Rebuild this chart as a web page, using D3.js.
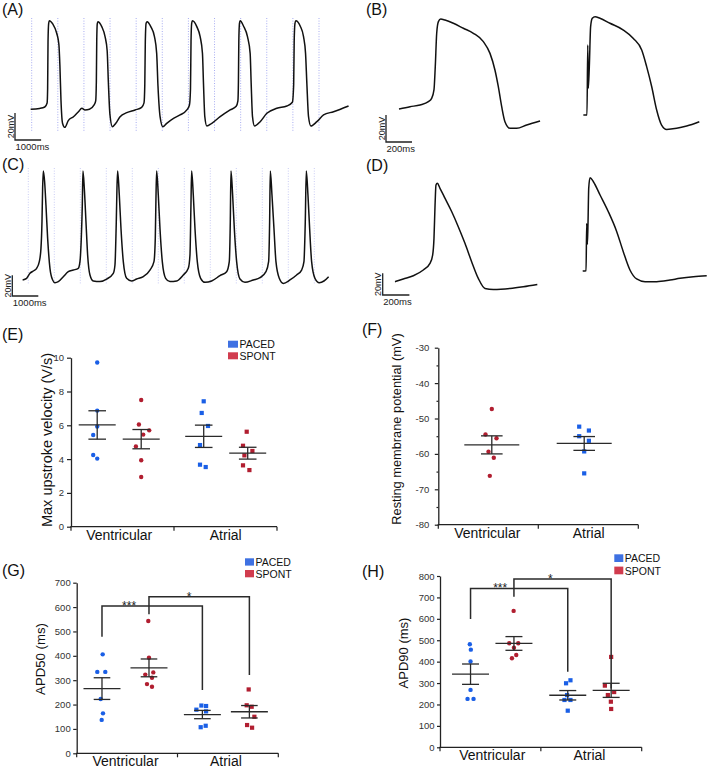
<!DOCTYPE html>
<html><head><meta charset="utf-8">
<script src="https://cdn.jsdelivr.net/npm/d3@7"></script>
<style>
body{margin:0;background:#fff;}
svg{display:block;font-family:"Liberation Sans",Arial,Helvetica,sans-serif;}
</style></head><body>
<svg id="chart" width="709" height="768"></svg>
<script>
// ---------------- DATA ----------------
// Action potential traces: [time (ms), membrane potential (mV)]
const traceA = [
[-40,-60.2],[300,-59.6],[500,-58.5],[590,-55.5],[610,-45],[625,-10],[650,3.5],[677,5.4],[805,3.0],[958,-3.9],[1040,-12],[1080,-28],[1120,-53],[1180,-70.5],[1270,-73.6],[1400,-68.6],[1600,-65.7],[1790,-62.0],[1920,-59.5],[2040,-60.7],[2210,-60.2],[2390,-57.0],[2450,-54],[2475,-40],[2490,-10],[2510,3],[2535,4.7],
[2682,1.0],[2809,-6.4],[2890,-17],[2935,-40],[2995,-64],[3090,-73.1],[3220,-70.6],[3384,-65.7],[3640,-62.7],[3960,-60.7],[4210,-58.8],[4300,-55.5],[4330,-42],[4350,-10],[4380,3.5],[4420,4.7],
[4560,1.0],[4700,-6.4],[4785,-18.8],[4835,-43],[4915,-65.7],[5020,-73.1],[5170,-70.6],[5430,-66.9],[5680,-64.4],[5940,-60.7],[6040,-57],[6080,-45],[6100,-10],[6125,3.5],[6155,5.4],
[6321,1.0],[6449,-6.4],[6538,-18.8],[6577,-41.0],[6628,-65.7],[6704,-72.6],[6896,-70.6],[7215,-65.7],[7598,-60.7],[7830,-58],[7895,-54],[7915,-40],[7930,-10],[7955,3.5],[7981,5.4],
[8109,1.5],[8262,-6.4],[8364,-18.8],[8403,-41.0],[8454,-65.7],[8530,-72.6],[8747,-69.4],[9003,-63.2],[9386,-59.5],[9769,-57.8],[9980,-55],[10030,-42],[10050,-10],[10080,3.5],[10114,5.4],
[10280,1.5],[10408,-6.4],[10485,-18.8],[10535,-41.0],[10599,-65.7],[10688,-72.6],[10918,-69.4],[11174,-64.4],[11557,-62.0],[12132,-57.8]
];
const traceB1 = [[0,-60],[85,-58.3],[162,-57.0],[226,-54.6],[251,-52.1],[269,-45.9],[279,-28.6],[290,-3.9],[303,4.7],[321,6.7],[354,5.9],[418,3.5],[495,-0.2],[572,-3.9],[649,-10.1],[700,-18.8],[738,-31.1],[764,-43.5],[790,-58.3],[815,-69.4],[854,-74.3],[905,-74.3],[982,-71.9],[1085,-68.9]];
const traceB2 = [[1418,-64.4],[1446,-64.4],[1452,-12.6],[1456,-44.7],[1464,-28.6],[1474,1.0],[1487,7.2],[1508,8.4],[1546,7.2],[1623,3.5],[1726,-1.5],[1803,-7.7],[1867,-16.3],[1905,-28.6],[1944,-43.5],[1982,-60.7],[2020,-71.9],[2059,-75.1],[2136,-74.3],[2213,-72.6],[2310,-69.4]];
const traceC = [
[-218,-69.0],[-64,-67.4],[64,-62.6],[192,-60.3],[321,-57.7],[423,-51.3],[487,-38.4],[526,-12.6],[551,19.7],[577,36.5],[628,26.1],[679,3.5],[744,-28.7],[833,-57.7],[936,-69.0],[1026,-71.6],[1154,-70.6],[1346,-65.8],[1538,-61.0],[1731,-59.4],[1923,-57.7],[1987,-51.3],[2038,-28.7],[2077,3.5],[2102,36.5],
[2154,19.7],[2218,-12.6],[2282,-44.8],[2372,-64.2],[2500,-70.0],[2756,-70.6],[3013,-68.1],[3269,-62.6],[3333,-54.5],[3384,-12.6],[3410,19.7],[3436,36.5],
[3500,13.2],[3564,-19.0],[3654,-51.3],[3782,-67.4],[3974,-70.0],[4167,-68.1],[4423,-65.8],[4679,-59.4],[4833,-51.3],[4884,-28.7],[4910,10.0],[4936,36.5],
[5000,13.2],[5064,-19.0],[5154,-51.3],[5282,-67.4],[5449,-70.6],[5705,-70.0],[5961,-64.2],[6154,-57.7],[6218,-44.8],[6256,3.5],[6282,36.5],
[6346,13.2],[6410,-19.0],[6500,-51.3],[6628,-67.4],[6795,-71.3],[7051,-70.0],[7372,-64.8],[7628,-61.0],[7730,-51.3],[7769,-12.6],[7795,36.5],
[7859,13.2],[7923,-19.0],[8013,-51.3],[8141,-68.1],[8333,-71.3],[8654,-69.0],[8910,-66.8],[9141,-61.0],[9243,-51.3],[9282,-12.6],[9308,36.5],
[9372,13.2],[9448,-19.0],[9525,-51.3],[9653,-67.4],[9807,-72.3],[10064,-69.0],[10320,-64.2],[10512,-59.4],[10602,-51.3],[10653,-12.6],[10692,36.5],
[10756,13.2],[10820,-19.0],[10897,-51.3],[11025,-67.4],[11192,-71.6],[11371,-70.0],[11551,-65.8]
];
const traceD1 = [[0,-60],[62,-57.5],[137,-54.5],[212,-49.2],[262,-43.1],[282,-35.4],[292,-20.0],[300,10.8],[307,29.2],[317,30.8],[337,26.2],[375,16.9],[425,4.6],[474,-9.2],[524,-24.6],[574,-41.5],[624,-56.9],[674,-66.2],[737,-67.1],[861,-66.2],[961,-64.6],[1066,-62.5]];
const traceD2 = [[1406,-50.2],[1431,-49.8],[1436,-6.2],[1441,-25.5],[1446,-4.6],[1451,26.2],[1461,36.0],[1486,32.3],[1536,20.0],[1598,4.6],[1661,-13.8],[1710,-32.3],[1760,-49.2],[1810,-57.5],[1873,-60.0],[1960,-60.0],[2060,-58.5],[2135,-56.9],[2235,-55.4],[2335,-54.5]];
const stimTimesA = [0,1000,2000,3000,4000,5000,6000,7000,8000,9000,10000,11000];
const gridTimesC = [0,1000,2000,3000,4000,5000,6000,7000,8000,9000,10000,11000];

const categories = ["Ventricular", "Atrial"];
const series = ["PACED", "SPONT"];

// (E) Max upstroke velocity (V/s)
const eVentPaced = [9.72, 6.87, 5.93, 5.43, 4.24, 4.03];
const eVentSpont = [7.5, 6.05, 5.7, 5.45, 4.75, 3.93, 2.94];
const eAtrPaced  = [7.42, 6.73, 5.96, 4.83, 3.67, 3.53];
const eAtrSpont  = [5.62, 4.79, 4.48, 4.22, 3.63, 3.35];
const eMean = [6.02, 5.18, 5.35, 4.35];
const eSem  = [0.84, 0.57, 0.66, 0.35];
const eTicks = [0, 2, 4, 6, 8, 10];

// (F) Resting membrane potential (mV)
const fVent = [-47.3, -54.5, -55.6, -59.4, -61.1, -66.2];
const fAtr  = [-52.3, -53.4, -55.0, -56.3, -59.3, -65.5];
const fMean = [-57.45, -57.05];
const fSem  = [2.55, 1.95];
const fTicks = [-80, -70, -60, -50, -40, -30];
const fMinor = [-75, -65, -55, -45, -35];

// (G) APD50 (ms)
const gVentPaced = [406, 334, 334, 223, 164, 137];
const gVentSpont = [543, 392, 332, 323, 310, 284, 273];
const gAtrPaced  = [196, 194, 179, 172, 113, 107];
const gAtrSpont  = [262, 197, 191, 150, 116, 105];
const gMean = [265.5, 350.5, 159, 170.5];
const gSem  = [44.5, 36.5, 17, 25.5];
const gTicks = [0, 100, 200, 300, 400, 500, 600, 700];

// (H) APD90 (ms)
const hVentPaced = [481, 456, 401, 268, 226, 226];
const hVentSpont = [637, 486, 486, 465, 431, 416];
const hAtrPaced  = [313, 299, 244, 221, 221, 171];
const hAtrSpont  = [422, 288, 258, 244, 213, 179];
const hMean = [341.5, 485, 243, 266];
const hSem  = [47.5, 32, 22, 33];
const hTicks = [0, 100, 200, 300, 400, 500, 600, 700, 800];

// ---------------- LAYOUT / STYLE ----------------
const FONT = '"Liberation Sans", Arial, Helvetica, sans-serif';
const BLUE = "#1a5fe6", RED = "#b11e30";
const LBLUE = "#3e71e2", LRED = "#d13c4e";
const INK = "#222";
const svg = d3.select("#chart");

function panelLabel(txt, x, y) {
  svg.append("text").attr("x", x).attr("y", y).attr("font-size", 16)
    .attr("fill", "#111").attr("font-family", FONT).text(txt);
}

function tracePanel(c) {
  const x = d3.scaleLinear().domain(c.xDomain).range(c.xRange);
  const y = d3.scaleLinear().domain(c.yDomain).range(c.yRange);
  const g = svg.append("g");
  if (c.grid) {
    g.selectAll("line.grid").data(c.grid).join("line").attr("class", "grid")
      .attr("x1", d => x(d)).attr("x2", d => x(d))
      .attr("y1", c.gridY[0]).attr("y2", c.gridY[1])
      .attr("stroke", c.gridColor).attr("stroke-width", 0.9)
      .attr("stroke-dasharray", "1,1.6");
  }
  const line = d3.line().x(d => x(d[0])).y(d => y(d[1])).curve(d3.curveMonotoneX);
  c.traces.forEach(tr => g.append("path").attr("d", line(tr)).attr("fill", "none")
    .attr("stroke", "#111").attr("stroke-width", 1.5).attr("stroke-linejoin", "round"));
  const [cx, cy] = c.barCorner;
  const lx = x(c.barMs) - x(0);
  const ly = y(0) - y(c.barMv);
  g.append("path").attr("d", `M${cx},${cy - ly}V${cy}H${cx + lx}`)
    .attr("fill", "none").attr("stroke", INK).attr("stroke-width", 1.3);
  g.append("text").attr("transform", `translate(${cx - 1.5},${cy - ly / 2}) rotate(-90)`)
    .attr("text-anchor", "middle").attr("font-size", 9).attr("fill", "#222")
    .attr("font-family", FONT).text(c.barMv + "mV");
  g.append("text").attr("x", cx + 0.5).attr("y", cy + 9.5)
    .attr("font-size", 9.5).attr("fill", "#222").attr("font-family", FONT)
    .text(c.barMs + "ms");
}

function scatterPanel(c) {
  const g = svg.append("g").attr("font-family", FONT);
  const y = d3.scaleLinear().domain(c.yDomain).range(c.yRange);
  const w = c.x1 - c.x0;
  const xc = d3.scalePoint().domain(categories).range([c.x0 + w * c.catFrac[0], c.x0 + w * c.catFrac[1]]);
  const xs = d3.scalePoint().domain(series).range([-c.gap, c.gap]);
  const xb = d3.scaleBand().domain(categories).range([c.x0, c.x1]);
  const yBase = c.yRange[0];

  const ax = g.append("g").attr("transform", `translate(${c.x0},0)`)
    .call(d3.axisLeft(y).tickValues(c.ticks).tickSize(c.tickLen).tickSizeOuter(0)
      .tickPadding(c.tickPad).tickFormat(d => String(d)));
  ax.attr("font-family", FONT);
  ax.select("path.domain").attr("stroke", INK).attr("stroke-width", 1.3);
  ax.selectAll(".tick line").attr("stroke", INK).attr("stroke-width", 1.2);
  ax.selectAll(".tick text").attr("font-size", c.tickFont).attr("fill", "#333");
  if (c.minor) {
    const mx = g.append("g").attr("transform", `translate(${c.x0},0)`)
      .call(d3.axisLeft(y).tickValues(c.minor).tickSize(1.8).tickSizeOuter(0).tickFormat(""));
    mx.select("path.domain").remove();
    mx.selectAll(".tick line").attr("stroke", INK).attr("stroke-width", 1.2);
  }
  // x axis
  g.append("line").attr("x1", c.x0 - 0.6).attr("x2", c.x1).attr("y1", yBase).attr("y2", yBase)
    .attr("stroke", INK).attr("stroke-width", 1.3);
  g.selectAll("line.xt").data([c.x0, xb("Atrial"), c.x1]).join("line").attr("class", "xt")
    .attr("x1", d => d).attr("x2", d => d).attr("y1", yBase).attr("y2", yBase + 4)
    .attr("stroke", INK).attr("stroke-width", 1.2);
  g.selectAll("text.cat").data(categories).join("text").attr("class", "cat")
    .attr("x", d => xc(d)).attr("y", yBase + 13).attr("text-anchor", "middle")
    .attr("font-size", 14).attr("fill", "#111").text(d => d);
  // y label
  g.append("text").attr("transform", `translate(${c.ylab.x},${c.ylab.y}) rotate(-90)`)
    .attr("text-anchor", "middle").attr("font-size", c.ylab.size).attr("fill", "#111")
    .text(c.ylab.text);

  const gxOf = (cat, ser) => xc(cat) + xs(ser);
  c.groups.forEach(gr => {
    const gx = gxOf(gr.cat, gr.ser);
    const col = gr.ser === "PACED" ? BLUE : RED;
    const pts = gr.values.map((v, i) => ({ x: gx + gr.jitter[i], y: y(v) }));
    if (gr.cat === "Ventricular") {
      g.selectAll(null).data(pts).join("circle").attr("cx", d => d.x).attr("cy", d => d.y)
        .attr("r", 2.2).attr("fill", col);
    } else {
      g.selectAll(null).data(pts).join("rect").attr("x", d => d.x - 2.1).attr("y", d => d.y - 2.1)
        .attr("width", 4.2).attr("height", 4.2).attr("fill", col);
    }
    const m = gr.mean, s = gr.sem;
    const st = { stroke: "#2a2a2a", "stroke-width": 1.3 };
    const ln = (x1, y1, x2, y2) => {
      const l = g.append("line").attr("x1", x1).attr("y1", y1).attr("x2", x2).attr("y2", y2);
      Object.entries(st).forEach(([k, v]) => l.attr(k, v));
    };
    ln(gx - c.meanHalf, y(m), gx + c.meanHalf, y(m));
    ln(gx, y(m - s), gx, y(m + s));
    ln(gx - c.whiskHalf, y(m + s), gx + c.whiskHalf, y(m + s));
    ln(gx - c.whiskHalf, y(m - s), gx + c.whiskHalf, y(m - s));
  });

  if (c.legend) {
    const L = c.legend;
    [["PACED", LBLUE], ["SPONT", LRED]].forEach(([name, col], i) => {
      g.append("rect").attr("x", L.x).attr("y", L.y + i * L.dy).attr("width", L.w).attr("height", L.h)
        .attr("fill", col);
      g.append("text").attr("x", L.x + L.w + 1.5).attr("y", L.y + i * L.dy + L.h + 0.3)
        .attr("font-size", 10.5).attr("fill", "#111").text(name);
    });
  }

  (c.brackets || []).forEach(b => {
    const xa = gxOf(b.from[0], b.from[1]), xe = gxOf(b.to[0], b.to[1]);
    g.append("path").attr("d", `M${xa},${y(b.lb)}V${y(b.top)}H${xe}V${y(b.rb)}`)
      .attr("fill", "none").attr("stroke", "#2a2a2a").attr("stroke-width", 1.5);
    g.append("text").attr("x", xa + b.frac * (xe - xa)).attr("y", y(b.top) + 3.8)
      .attr("text-anchor", "middle").attr("font-size", 12).attr("fill", "#222").text(b.label);
  });
}

// ---------------- DRAW ----------------
panelLabel("(A)", 2, 15);
panelLabel("(B)", 366, 15);
panelLabel("(C)", 2, 170);
panelLabel("(D)", 366, 171);
panelLabel("(E)", 2, 340);
panelLabel("(F)", 362, 335);
panelLabel("(G)", 2, 576);
panelLabel("(H)", 362, 577);

tracePanel({ xDomain: [0, 11000], xRange: [31.7, 319], yDomain: [-60, 5], yRange: [109, 21.25],
  grid: stimTimesA, gridY: [18, 132], gridColor: "#9ea4ef",
  traces: [traceA], barCorner: [15, 140], barMs: 1000, barMv: 20 });
tracePanel({ xDomain: [0, 200], xRange: [399, 425], yDomain: [-60, 0], yRange: [109, 28],
  traces: [traceB1, traceB2], barCorner: [386, 142], barMs: 200, barMv: 20 });
tracePanel({ xDomain: [0, 1000], xRange: [28.3, 54.3], yDomain: [-70, 30], yRange: [281, 177.7],
  grid: gridTimesC, gridY: [168, 285], gridColor: "#c3c6f3",
  traces: [traceC], barCorner: [12.3, 296], barMs: 1000, barMv: 20 });
tracePanel({ xDomain: [0, 200], xRange: [395, 421.7], yDomain: [-60, 0], yRange: [281.7, 216.7],
  traces: [traceD1, traceD2], barCorner: [382.7, 295], barMs: 200, barMv: 20 });

scatterPanel({
  x0: 71, x1: 277, yDomain: [0, 10], yRange: [526.7, 357.7], ticks: eTicks,
  tickLen: 4, tickPad: 3, tickFont: 9.5, catFrac: [0.234, 0.751], gap: 22,
  meanHalf: 18.5, whiskHalf: 8.8,
  ylab: { text: "Max upstroke velocity (V/s)", x: 52, y: 440, size: 14.5 },
  legend: { x: 228, y: 340.7, w: 10, h: 7, dy: 11.6 },
  groups: [
    { cat: "Ventricular", ser: "PACED", values: eVentPaced, mean: eMean[0], sem: eSem[0], jitter: [0, 0, 0, -4, -4, 0] },
    { cat: "Ventricular", ser: "SPONT", values: eVentSpont, mean: eMean[1], sem: eSem[1], jitter: [0, -2.3, 8, 2, -5.3, 0, 0] },
    { cat: "Atrial", ser: "PACED", values: eAtrPaced, mean: eMean[2], sem: eSem[2], jitter: [0, -2, 4.3, -3.7, -3.7, 2] },
    { cat: "Atrial", ser: "SPONT", values: eAtrSpont, mean: eMean[3], sem: eSem[3], jitter: [-1, -4.7, 4.7, -3.3, -4.7, 1.7] }
  ]
});

scatterPanel({
  x0: 438.3, x1: 638.3, yDomain: [-80, -30], yRange: [524.7, 347.7], ticks: fTicks, minor: fMinor,
  tickLen: 3.5, tickPad: 5.5, tickFont: 9.5, catFrac: [0.245, 0.752], gap: 4.5,
  meanHalf: 27.5, whiskHalf: 10.8,
  ylab: { text: "Resting membrane potential (mV)", x: 401, y: 429, size: 12.8 },
  groups: [
    { cat: "Ventricular", ser: "SPONT", values: fVent, mean: fMean[0], sem: fSem[0], jitter: [0, -6.3, 4.7, -3.3, 2, -2] },
    { cat: "Atrial", ser: "PACED", values: fAtr, mean: fMean[1], sem: fSem[1], jitter: [-5, 4.7, -5, 4.7, 0, 0] }
  ]
});

scatterPanel({
  x0: 76.7, x1: 278.3, yDomain: [0, 700], yRange: [753.3, 582.7], ticks: gTicks,
  tickLen: 3.5, tickPad: 2.5, tickFont: 9.5, catFrac: [0.242, 0.740], gap: 23.5,
  meanHalf: 18.5, whiskHalf: 8.3,
  ylab: { text: "APD50 (ms)", x: 44.5, y: 659, size: 13.2 },
  legend: { x: 245, y: 558.3, w: 9, h: 7.3, dy: 11.7 },
  groups: [
    { cat: "Ventricular", ser: "PACED", values: gVentPaced, mean: gMean[0], sem: gSem[0], jitter: [0.7, -4.7, 3.3, -1.3, 1, -0.3] },
    { cat: "Ventricular", ser: "SPONT", values: gVentSpont, mean: gMean[1], sem: gSem[1], jitter: [-0.7, 0, 4.3, -3.7, 3, -2, 3] },
    { cat: "Atrial", ser: "PACED", values: gAtrPaced, mean: gMean[2], sem: gSem[2], jitter: [-1, 3.7, -6, 3.7, 3.3, -1.7] },
    { cat: "Atrial", ser: "SPONT", values: gAtrSpont, mean: gMean[3], sem: gSem[3], jitter: [-0.7, -2.7, 2.3, 5, -2.3, 2.7] }
  ],
  brackets: [
    { from: ["Ventricular", "PACED"], to: ["Atrial", "PACED"], top: 604, lb: 478, rb: 260, label: "***", frac: 0.27 },
    { from: ["Ventricular", "SPONT"], to: ["Atrial", "SPONT"], top: 642, lb: 571, rb: 321, label: "*", frac: 0.40 }
  ]
});

scatterPanel({
  x0: 440, x1: 641.7, yDomain: [0, 800], yRange: [747.3, 576], ticks: hTicks,
  tickLen: 3, tickPad: 2.5, tickFont: 9.5, catFrac: [0.259, 0.741], gap: 21.7,
  meanHalf: 18.5, whiskHalf: 8.5,
  ylab: { text: "APD90 (ms)", x: 407.7, y: 653, size: 13 },
  legend: { x: 614.3, y: 554.3, w: 9, h: 7.7, dy: 12.3 },
  groups: [
    { cat: "Ventricular", ser: "PACED", values: hVentPaced, mean: hMean[0], sem: hSem[0], jitter: [-0.7, 0.3, 0, 0, -3, 3] },
    { cat: "Ventricular", ser: "SPONT", values: hVentSpont, mean: hMean[1], sem: hSem[1], jitter: [-0.3, -4.7, 4.3, 0, 2.3, -2] },
    { cat: "Atrial", ser: "PACED", values: hAtrPaced, mean: hMean[2], sem: hSem[2], jitter: [2.7, -1.7, -0.7, -3.3, 2.7, 0] },
    { cat: "Atrial", ser: "SPONT", values: hAtrSpont, mean: hMean[3], sem: hSem[3], jitter: [0, -6.3, 3, -3.3, -0.3, 0] }
  ],
  brackets: [
    { from: ["Ventricular", "PACED"], to: ["Atrial", "PACED"], top: 742, lb: 599, rb: 353, label: "***", frac: 0.305 },
    { from: ["Ventricular", "SPONT"], to: ["Atrial", "SPONT"], top: 786, lb: 703, rb: 275, label: "*", frac: 0.374 }
  ]
});
</script>
</body></html>
